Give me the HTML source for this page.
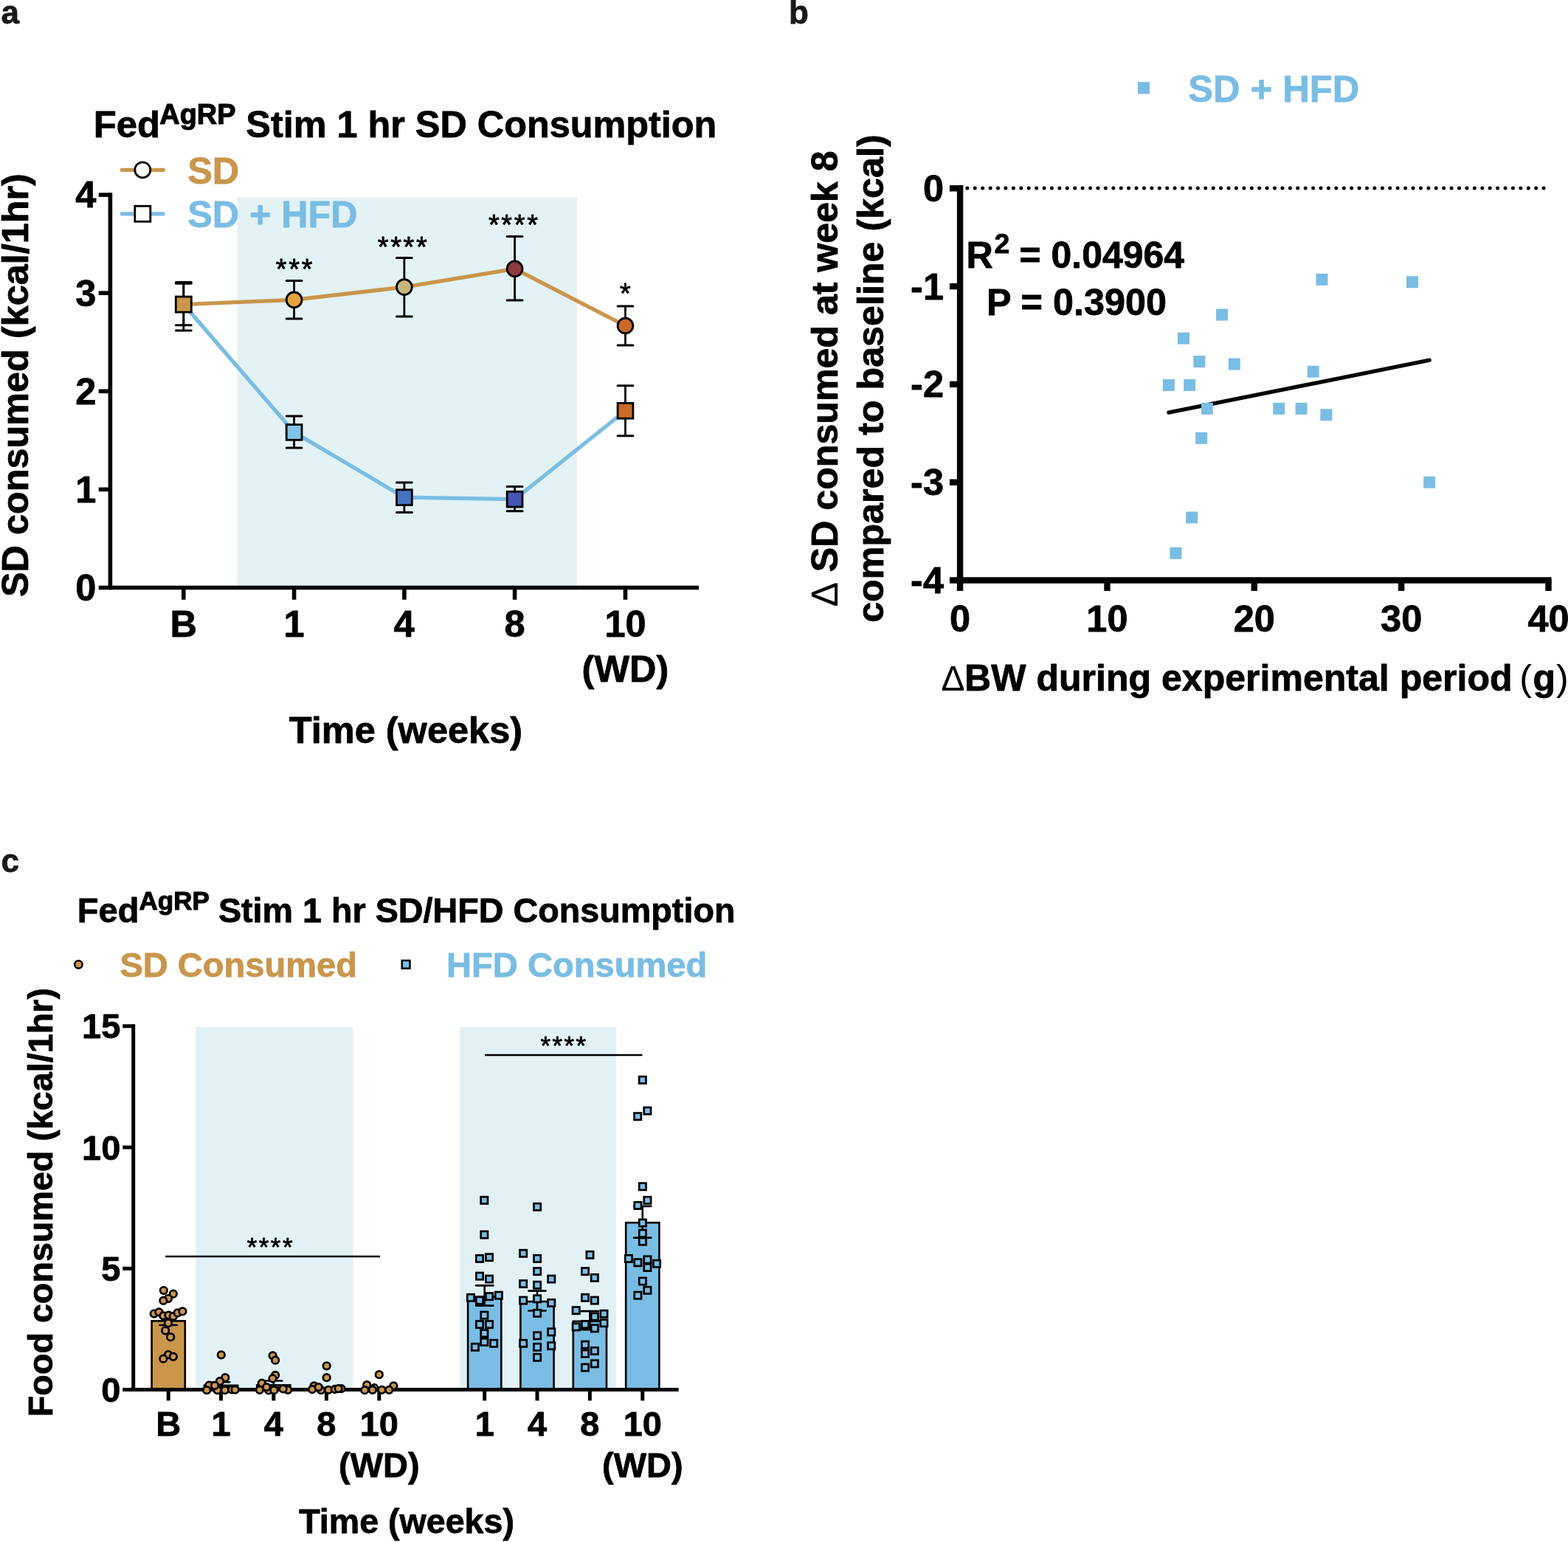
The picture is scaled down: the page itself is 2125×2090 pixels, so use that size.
<!DOCTYPE html>
<html lang="en"><head><meta charset="utf-8"><title>Figure</title>
<style>
html,body{margin:0;padding:0;background:#fff;}
body{width:2125px;height:2090px;overflow:hidden;}
svg{display:block;font-family:"Liberation Sans",sans-serif;font-weight:bold;}
text{stroke:#000;stroke-width:0.8px;stroke-linejoin:round;}
text.n,tspan.n{stroke-width:0.15px;font-weight:normal;}
text.s,tspan.s{stroke-width:1.1px;}
</style></head><body>
<svg width="2125" height="2090" viewBox="0 0 2125 2090">
<rect x="0" y="0" width="2125" height="2090" fill="#fff"/>
<text x="1.48" y="32.4" font-size="44" style="fill:#1a1a1a;stroke:#1a1a1a">a</text>
<text x="1069.04" y="32.3" font-size="44" style="fill:#1a1a1a;stroke:#1a1a1a">b</text>
<text x="1.44" y="1181.6" font-size="44" style="fill:#1a1a1a;stroke:#1a1a1a">c</text>
<rect x="321.5" y="267.8" width="460.5" height="528.7" fill="#e3f2f4"/>
<text y="186.1" font-size="50.8"><tspan x="126.77">Fed</tspan><tspan x="216.35" y="167.5" font-size="37.9" class="s">AgRP </tspan><tspan x="333.29" y="186.1" font-size="50.38">Stim 1 hr SD Consumption</tspan></text>
<line x1="165.2" y1="230.3" x2="221.2" y2="230.3" stroke="#c9964c" stroke-width="5.2" stroke-linecap="round"/>
<circle cx="193.3" cy="230.3" r="10.5" fill="#fff" stroke="#000" stroke-width="2.8"/>
<text x="254.19" y="249" font-size="50.5" style="fill:#c9964c;stroke:#c9964c">SD</text>
<line x1="165.2" y1="289.8" x2="221.2" y2="289.8" stroke="#7abde4" stroke-width="5.2" stroke-linecap="round"/>
<rect x="182.8" y="279.3" width="21" height="21" fill="#fff" stroke="#000" stroke-width="2.8"/>
<text x="254.19" y="308" font-size="50.24" style="fill:#7abde4;stroke:#7abde4">SD + HFD</text>
<polyline fill="none" stroke="#7abde4" stroke-width="5.3" stroke-linejoin="round" points="248.8,412.6 398.6,585.9 547.9,674.2 697.6,676.7 847.5,556.8"/>
<polyline fill="none" stroke="#c9964c" stroke-width="5.3" stroke-linejoin="round" points="248.8,412.6 398.6,406.4 547.9,389.1 697.6,364.3 847.5,441.5"/>
<line x1="248.8" y1="384.3" x2="248.8" y2="448" stroke="#000" stroke-width="2.8"/>
<line x1="238.4" y1="384.3" x2="259.2" y2="384.3" stroke="#000" stroke-width="3" stroke-linecap="round"/>
<line x1="238.4" y1="448" x2="259.2" y2="448" stroke="#000" stroke-width="3" stroke-linecap="round"/>
<line x1="248.8" y1="382.4" x2="248.8" y2="440.8" stroke="#000" stroke-width="2.8"/>
<line x1="238.4" y1="382.4" x2="259.2" y2="382.4" stroke="#000" stroke-width="3" stroke-linecap="round"/>
<line x1="238.4" y1="440.8" x2="259.2" y2="440.8" stroke="#000" stroke-width="3" stroke-linecap="round"/>
<line x1="398.6" y1="563.9" x2="398.6" y2="607" stroke="#000" stroke-width="2.8"/>
<line x1="388.2" y1="563.9" x2="409" y2="563.9" stroke="#000" stroke-width="3" stroke-linecap="round"/>
<line x1="388.2" y1="607" x2="409" y2="607" stroke="#000" stroke-width="3" stroke-linecap="round"/>
<line x1="398.6" y1="380.4" x2="398.6" y2="431.9" stroke="#000" stroke-width="2.8"/>
<line x1="388.2" y1="380.4" x2="409" y2="380.4" stroke="#000" stroke-width="3" stroke-linecap="round"/>
<line x1="388.2" y1="431.9" x2="409" y2="431.9" stroke="#000" stroke-width="3" stroke-linecap="round"/>
<line x1="547.9" y1="654.1" x2="547.9" y2="694.4" stroke="#000" stroke-width="2.8"/>
<line x1="537.5" y1="654.1" x2="558.3" y2="654.1" stroke="#000" stroke-width="3" stroke-linecap="round"/>
<line x1="537.5" y1="694.4" x2="558.3" y2="694.4" stroke="#000" stroke-width="3" stroke-linecap="round"/>
<line x1="547.9" y1="349.4" x2="547.9" y2="429.1" stroke="#000" stroke-width="2.8"/>
<line x1="537.5" y1="349.4" x2="558.3" y2="349.4" stroke="#000" stroke-width="3" stroke-linecap="round"/>
<line x1="537.5" y1="429.1" x2="558.3" y2="429.1" stroke="#000" stroke-width="3" stroke-linecap="round"/>
<line x1="697.6" y1="659.6" x2="697.6" y2="692.8" stroke="#000" stroke-width="2.8"/>
<line x1="687.2" y1="659.6" x2="708" y2="659.6" stroke="#000" stroke-width="3" stroke-linecap="round"/>
<line x1="687.2" y1="692.8" x2="708" y2="692.8" stroke="#000" stroke-width="3" stroke-linecap="round"/>
<line x1="697.6" y1="320.6" x2="697.6" y2="407.1" stroke="#000" stroke-width="2.8"/>
<line x1="687.2" y1="320.6" x2="708" y2="320.6" stroke="#000" stroke-width="3" stroke-linecap="round"/>
<line x1="687.2" y1="407.1" x2="708" y2="407.1" stroke="#000" stroke-width="3" stroke-linecap="round"/>
<line x1="847.5" y1="522.7" x2="847.5" y2="590.8" stroke="#000" stroke-width="2.8"/>
<line x1="837.1" y1="522.7" x2="857.9" y2="522.7" stroke="#000" stroke-width="3" stroke-linecap="round"/>
<line x1="837.1" y1="590.8" x2="857.9" y2="590.8" stroke="#000" stroke-width="3" stroke-linecap="round"/>
<line x1="847.5" y1="415.1" x2="847.5" y2="468.1" stroke="#000" stroke-width="2.8"/>
<line x1="837.1" y1="415.1" x2="857.9" y2="415.1" stroke="#000" stroke-width="3" stroke-linecap="round"/>
<line x1="837.1" y1="468.1" x2="857.9" y2="468.1" stroke="#000" stroke-width="3" stroke-linecap="round"/>
<rect x="388.2" y="575.5" width="20.8" height="20.8" fill="#80c4e8" stroke="#000" stroke-width="2.8"/>
<circle cx="398.6" cy="406.4" r="10.4" fill="#e4a23e" stroke="#000" stroke-width="2.8"/>
<rect x="537.5" y="663.8" width="20.8" height="20.8" fill="#4573c1" stroke="#000" stroke-width="2.8"/>
<circle cx="547.9" cy="389.1" r="10.4" fill="#cab67b" stroke="#000" stroke-width="2.8"/>
<rect x="687.2" y="666.3" width="20.8" height="20.8" fill="#4355b0" stroke="#000" stroke-width="2.8"/>
<circle cx="697.6" cy="364.3" r="10.4" fill="#8e3b40" stroke="#000" stroke-width="2.8"/>
<rect x="837.1" y="546.4" width="20.8" height="20.8" fill="#cb6a28" stroke="#000" stroke-width="2.8"/>
<circle cx="847.5" cy="441.5" r="10.4" fill="#cb6a28" stroke="#000" stroke-width="2.8"/>
<rect x="238.3" y="402.1" width="21" height="21" fill="#c9964c" stroke="#000" stroke-width="2.8"/>
<line x1="149.4" y1="261.3" x2="149.4" y2="799.3" stroke="#000" stroke-width="5.6"/>
<line x1="133.7" y1="796.5" x2="947" y2="796.5" stroke="#000" stroke-width="5.6"/>
<text x="130.3" y="813.8" font-size="50.5" text-anchor="end">0</text>
<line x1="133.7" y1="663.4" x2="149.4" y2="663.4" stroke="#000" stroke-width="5.6"/>
<text x="130.3" y="680.7" font-size="50.5" text-anchor="end">1</text>
<line x1="133.7" y1="530.3" x2="149.4" y2="530.3" stroke="#000" stroke-width="5.6"/>
<text x="130.3" y="547.6" font-size="50.5" text-anchor="end">2</text>
<line x1="133.7" y1="397.2" x2="149.4" y2="397.2" stroke="#000" stroke-width="5.6"/>
<text x="130.3" y="414.5" font-size="50.5" text-anchor="end">3</text>
<line x1="133.7" y1="264.1" x2="149.4" y2="264.1" stroke="#000" stroke-width="5.6"/>
<text x="130.3" y="281.4" font-size="50.5" text-anchor="end">4</text>
<line x1="248.8" y1="796.5" x2="248.8" y2="812.8" stroke="#000" stroke-width="5.6"/>
<text x="248.8" y="863.4" font-size="50.5" text-anchor="middle">B</text>
<line x1="398.6" y1="796.5" x2="398.6" y2="812.8" stroke="#000" stroke-width="5.6"/>
<text x="398.6" y="863.4" font-size="50.5" text-anchor="middle">1</text>
<line x1="547.9" y1="796.5" x2="547.9" y2="812.8" stroke="#000" stroke-width="5.6"/>
<text x="547.9" y="863.4" font-size="50.5" text-anchor="middle">4</text>
<line x1="697.6" y1="796.5" x2="697.6" y2="812.8" stroke="#000" stroke-width="5.6"/>
<text x="697.6" y="863.4" font-size="50.5" text-anchor="middle">8</text>
<line x1="847.5" y1="796.5" x2="847.5" y2="812.8" stroke="#000" stroke-width="5.6"/>
<text x="847.5" y="863.4" font-size="50.5" text-anchor="middle">10</text>
<text x="847.5" y="923.5" font-size="50.5" text-anchor="middle">(WD)</text>
<text x="391.8" y="1007.1" font-size="50.5">Time (weeks)</text>
<text transform="translate(38.4,809.01) rotate(-90)" font-size="50.39">SD consumed (kcal/1hr)</text>
<text x="373.85" y="377.6" font-size="38" font-weight="normal" letter-spacing="2.65">***</text>
<text x="511.73" y="348.2" font-size="38" font-weight="normal" letter-spacing="2.65">****</text>
<text x="661.93" y="317.8" font-size="38" font-weight="normal" letter-spacing="2.65">****</text>
<text x="839.89" y="410.8" font-size="38" font-weight="normal" letter-spacing="2.65">*</text>
<rect x="1541.9" y="111.1" width="16.2" height="16.2" fill="#7abde4"/>
<text x="1610.28" y="137.5" font-size="50.61" style="fill:#7abde4;stroke:#7abde4">SD + HFD</text>
<line x1="1310.9" y1="254.9" x2="2092.6" y2="254.9" stroke="#000" stroke-width="5" stroke-dasharray="0 10.416" stroke-linecap="round"/>
<line x1="1583.9" y1="559.2" x2="1937.2" y2="488.2" stroke="#000" stroke-width="5.3" stroke-linecap="round"/>
<rect x="1783.5" y="370.9" width="16" height="16" fill="#7abde4"/>
<rect x="1906" y="374.3" width="16" height="16" fill="#7abde4"/>
<rect x="1648.1" y="418.6" width="16" height="16" fill="#7abde4"/>
<rect x="1596" y="450.6" width="16" height="16" fill="#7abde4"/>
<rect x="1617.4" y="482.1" width="16" height="16" fill="#7abde4"/>
<rect x="1664.8" y="485.5" width="16" height="16" fill="#7abde4"/>
<rect x="1771.7" y="495.7" width="16" height="16" fill="#7abde4"/>
<rect x="1575.9" y="514" width="16" height="16" fill="#7abde4"/>
<rect x="1604.1" y="514" width="16" height="16" fill="#7abde4"/>
<rect x="1627.9" y="545.9" width="16" height="16" fill="#7abde4"/>
<rect x="1725.3" y="545.9" width="16" height="16" fill="#7abde4"/>
<rect x="1755.6" y="545.9" width="16" height="16" fill="#7abde4"/>
<rect x="1789.4" y="554.3" width="16" height="16" fill="#7abde4"/>
<rect x="1620.2" y="585.9" width="16" height="16" fill="#7abde4"/>
<rect x="1929.2" y="645.7" width="16" height="16" fill="#7abde4"/>
<rect x="1607.2" y="693.4" width="16" height="16" fill="#7abde4"/>
<rect x="1585.5" y="741.8" width="16" height="16" fill="#7abde4"/>
<line x1="1301.1" y1="251.1" x2="1301.1" y2="790.7" stroke="#000" stroke-width="8.4"/>
<line x1="1287" y1="786.5" x2="2102.6" y2="786.5" stroke="#000" stroke-width="8.4"/>
<line x1="1287" y1="255.3" x2="1301.1" y2="255.3" stroke="#000" stroke-width="8.4"/>
<text x="1279" y="272.8" font-size="50.5" text-anchor="end">0</text>
<line x1="1287" y1="388.1" x2="1301.1" y2="388.1" stroke="#000" stroke-width="8.4"/>
<text x="1279" y="405.6" font-size="50.5" text-anchor="end">-1</text>
<line x1="1287" y1="520.9" x2="1301.1" y2="520.9" stroke="#000" stroke-width="8.4"/>
<text x="1279" y="538.4" font-size="50.5" text-anchor="end">-2</text>
<line x1="1287" y1="653.7" x2="1301.1" y2="653.7" stroke="#000" stroke-width="8.4"/>
<text x="1279" y="671.2" font-size="50.5" text-anchor="end">-3</text>
<text x="1279" y="804" font-size="50.5" text-anchor="end">-4</text>
<line x1="1301.1" y1="786.5" x2="1301.1" y2="800.9" stroke="#000" stroke-width="8.4"/>
<text x="1301.1" y="856.3" font-size="50.5" text-anchor="middle">0</text>
<line x1="1500.45" y1="786.5" x2="1500.45" y2="800.9" stroke="#000" stroke-width="8.4"/>
<text x="1500.45" y="856.3" font-size="50.5" text-anchor="middle">10</text>
<line x1="1699.8" y1="786.5" x2="1699.8" y2="800.9" stroke="#000" stroke-width="8.4"/>
<text x="1699.8" y="856.3" font-size="50.5" text-anchor="middle">20</text>
<line x1="1899.15" y1="786.5" x2="1899.15" y2="800.9" stroke="#000" stroke-width="8.4"/>
<text x="1899.15" y="856.3" font-size="50.5" text-anchor="middle">30</text>
<line x1="2098.5" y1="786.5" x2="2098.5" y2="800.9" stroke="#000" stroke-width="8.4"/>
<text x="2098.5" y="856.3" font-size="50.5" text-anchor="middle">40</text>
<text y="935.5" font-size="50.05"><tspan x="1275.56" font-size="47.9" class="n">Δ</tspan><tspan x="1307.12">BW during experimental period </tspan><tspan x="2059.17" class="n">(</tspan><tspan x="2077.4">g</tspan><tspan x="2108.99" class="n">)</tspan></text>
<text transform="translate(1134.5,822.6) rotate(-90)" font-size="50.12"><tspan x="0" class="n">Δ </tspan><tspan x="47.44">SD consumed at week 8</tspan></text>
<text transform="translate(1197.1,843.81) rotate(-90)" font-size="50.22">compared to baseline (kcal)</text>
<text y="363.1" font-size="50.3"><tspan x="1309.6">R</tspan><tspan x="1347.39" y="343.4" font-size="37.5">2 </tspan><tspan x="1381.58" y="363.1" font-size="49.92">= 0.04964</tspan></text>
<text x="1336.9" y="426.6" font-size="50.39">P = 0.3900</text>
<rect x="265.3" y="1392" width="213.2" height="491.6" fill="#e2f1f6"/>
<rect x="623.2" y="1392" width="212.1" height="491.6" fill="#e2f1f6"/>
<text y="1249.6" font-size="47"><tspan x="104.83">Fed</tspan><tspan x="188.52" y="1232.7" font-size="35" class="s">AgRP </tspan><tspan x="295.9" y="1249.6" font-size="46.71">Stim 1 hr SD/HFD Consumption</tspan></text>
<circle cx="106.4" cy="1307.2" r="5.2" fill="#c9964c" stroke="#000" stroke-width="2.5"/>
<text x="162.39" y="1324" font-size="47.05" style="fill:#c9964c;stroke:#c9964c">SD Consumed</text>
<rect x="544.75" y="1301.85" width="10.7" height="10.7" fill="#7abde4" stroke="#000" stroke-width="2.5"/>
<text x="605.02" y="1324" font-size="47.11" style="fill:#7abde4;stroke:#7abde4">HFD Consumed</text>
<text transform="translate(70.9,1920.15) rotate(-90)" font-size="46.69">Food consumed (kcal/1hr)</text>
<text x="405.23" y="2078" font-size="46.58">Time (weeks)</text>
<text x="228.2" y="1945.5" font-size="47" text-anchor="middle">B</text>
<text x="299.5" y="1945.5" font-size="47" text-anchor="middle">1</text>
<text x="370.8" y="1945.5" font-size="47" text-anchor="middle">4</text>
<text x="442.4" y="1945.5" font-size="47" text-anchor="middle">8</text>
<text x="513.8" y="1945.5" font-size="47" text-anchor="middle">10</text>
<text x="656.7" y="1945.5" font-size="47" text-anchor="middle">1</text>
<text x="728" y="1945.5" font-size="47" text-anchor="middle">4</text>
<text x="799.4" y="1945.5" font-size="47" text-anchor="middle">8</text>
<text x="870.8" y="1945.5" font-size="47" text-anchor="middle">10</text>
<text x="513.8" y="2001.8" font-size="47" text-anchor="middle">(WD)</text>
<text x="870.8" y="2001.8" font-size="47" text-anchor="middle">(WD)</text>
<text x="163.4" y="1900.1" font-size="47" text-anchor="end">0</text>
<text x="163.4" y="1735.83" font-size="47" text-anchor="end">5</text>
<text x="163.4" y="1571.57" font-size="47" text-anchor="end">10</text>
<text x="163.4" y="1407.3" font-size="47" text-anchor="end">15</text>
<rect x="205.6" y="1790.4" width="45.2" height="93.2" fill="#c9964c" stroke="#000" stroke-width="2.6"/>
<rect x="276.9" y="1877.82" width="45.2" height="5.78" fill="#c9964c" stroke="#000" stroke-width="2.6"/>
<rect x="348.2" y="1877.38" width="45.2" height="6.22" fill="#c9964c" stroke="#000" stroke-width="2.6"/>
<rect x="419.8" y="1881.5" width="45.2" height="2.1" fill="#c9964c" stroke="#000" stroke-width="2.6"/>
<rect x="491.2" y="1882" width="45.2" height="1.6" fill="#c9964c" stroke="#000" stroke-width="2.6"/>
<rect x="634.1" y="1757.58" width="45.2" height="126.02" fill="#7abde4" stroke="#000" stroke-width="2.6"/>
<rect x="705.4" y="1764.08" width="45.2" height="119.52" fill="#7abde4" stroke="#000" stroke-width="2.6"/>
<rect x="776.8" y="1790.86" width="45.2" height="92.74" fill="#7abde4" stroke="#000" stroke-width="2.6"/>
<rect x="848.2" y="1657.17" width="45.2" height="226.43" fill="#7abde4" stroke="#000" stroke-width="2.6"/>
<line x1="228.2" y1="1784.17" x2="228.2" y2="1795.99" stroke="#000" stroke-width="2.6"/>
<line x1="216.6" y1="1784.17" x2="239.8" y2="1784.17" stroke="#000" stroke-width="2.6" stroke-linecap="round"/>
<line x1="216.6" y1="1795.99" x2="239.8" y2="1795.99" stroke="#000" stroke-width="2.6" stroke-linecap="round"/>
<line x1="299.5" y1="1873.29" x2="299.5" y2="1879.8" stroke="#000" stroke-width="2.6"/>
<line x1="287.9" y1="1873.29" x2="311.1" y2="1873.29" stroke="#000" stroke-width="2.6" stroke-linecap="round"/>
<line x1="287.9" y1="1879.8" x2="311.1" y2="1879.8" stroke="#000" stroke-width="2.6" stroke-linecap="round"/>
<line x1="370.8" y1="1871.55" x2="370.8" y2="1880.52" stroke="#000" stroke-width="2.6"/>
<line x1="359.2" y1="1871.55" x2="382.4" y2="1871.55" stroke="#000" stroke-width="2.6" stroke-linecap="round"/>
<line x1="359.2" y1="1880.52" x2="382.4" y2="1880.52" stroke="#000" stroke-width="2.6" stroke-linecap="round"/>
<line x1="656.7" y1="1742.33" x2="656.7" y2="1769.66" stroke="#000" stroke-width="2.6"/>
<line x1="645.1" y1="1742.33" x2="668.3" y2="1742.33" stroke="#000" stroke-width="2.6" stroke-linecap="round"/>
<line x1="645.1" y1="1769.66" x2="668.3" y2="1769.66" stroke="#000" stroke-width="2.6" stroke-linecap="round"/>
<line x1="728" y1="1749.58" x2="728" y2="1776.54" stroke="#000" stroke-width="2.6"/>
<line x1="716.4" y1="1749.58" x2="739.6" y2="1749.58" stroke="#000" stroke-width="2.6" stroke-linecap="round"/>
<line x1="716.4" y1="1776.54" x2="739.6" y2="1776.54" stroke="#000" stroke-width="2.6" stroke-linecap="round"/>
<line x1="799.4" y1="1777.1" x2="799.4" y2="1802.2" stroke="#000" stroke-width="2.6"/>
<line x1="787.8" y1="1777.1" x2="811" y2="1777.1" stroke="#000" stroke-width="2.6" stroke-linecap="round"/>
<line x1="787.8" y1="1802.2" x2="811" y2="1802.2" stroke="#000" stroke-width="2.6" stroke-linecap="round"/>
<line x1="870.8" y1="1634.85" x2="870.8" y2="1677.62" stroke="#000" stroke-width="2.6"/>
<line x1="859.2" y1="1634.85" x2="882.4" y2="1634.85" stroke="#000" stroke-width="2.6" stroke-linecap="round"/>
<line x1="859.2" y1="1677.62" x2="882.4" y2="1677.62" stroke="#000" stroke-width="2.6" stroke-linecap="round"/>
<line x1="180.7" y1="1388.3" x2="180.7" y2="1886.1" stroke="#000" stroke-width="5"/>
<line x1="166.2" y1="1883.6" x2="919.6" y2="1883.6" stroke="#000" stroke-width="5"/>
<line x1="166.2" y1="1719.33" x2="180.7" y2="1719.33" stroke="#000" stroke-width="5"/>
<line x1="166.2" y1="1555.07" x2="180.7" y2="1555.07" stroke="#000" stroke-width="5"/>
<line x1="166.2" y1="1390.8" x2="180.7" y2="1390.8" stroke="#000" stroke-width="5"/>
<line x1="228.2" y1="1883.6" x2="228.2" y2="1898.4" stroke="#000" stroke-width="5"/>
<line x1="299.5" y1="1883.6" x2="299.5" y2="1898.4" stroke="#000" stroke-width="5"/>
<line x1="370.8" y1="1883.6" x2="370.8" y2="1898.4" stroke="#000" stroke-width="5"/>
<line x1="442.4" y1="1883.6" x2="442.4" y2="1898.4" stroke="#000" stroke-width="5"/>
<line x1="513.8" y1="1883.6" x2="513.8" y2="1898.4" stroke="#000" stroke-width="5"/>
<line x1="656.7" y1="1883.6" x2="656.7" y2="1898.4" stroke="#000" stroke-width="5"/>
<line x1="728" y1="1883.6" x2="728" y2="1898.4" stroke="#000" stroke-width="5"/>
<line x1="799.4" y1="1883.6" x2="799.4" y2="1898.4" stroke="#000" stroke-width="5"/>
<line x1="870.8" y1="1883.6" x2="870.8" y2="1898.4" stroke="#000" stroke-width="5"/>
<circle cx="221.85" cy="1749.03" r="4.8" fill="#c9964c" stroke="#000" stroke-width="2.7"/>
<circle cx="234.77" cy="1753.76" r="4.8" fill="#c9964c" stroke="#000" stroke-width="2.7"/>
<circle cx="227.99" cy="1760.06" r="4.8" fill="#c9964c" stroke="#000" stroke-width="2.7"/>
<circle cx="221.37" cy="1762.9" r="4.8" fill="#c9964c" stroke="#000" stroke-width="2.7"/>
<circle cx="208.77" cy="1780.55" r="4.8" fill="#c9964c" stroke="#000" stroke-width="2.7"/>
<circle cx="215.39" cy="1778.34" r="4.8" fill="#c9964c" stroke="#000" stroke-width="2.7"/>
<circle cx="221.37" cy="1783.38" r="4.8" fill="#c9964c" stroke="#000" stroke-width="2.7"/>
<circle cx="228.47" cy="1782.59" r="4.8" fill="#c9964c" stroke="#000" stroke-width="2.7"/>
<circle cx="234.77" cy="1784.17" r="4.8" fill="#c9964c" stroke="#000" stroke-width="2.7"/>
<circle cx="240.76" cy="1779.44" r="4.8" fill="#c9964c" stroke="#000" stroke-width="2.7"/>
<circle cx="247.37" cy="1777.39" r="4.8" fill="#c9964c" stroke="#000" stroke-width="2.7"/>
<circle cx="227.99" cy="1793.31" r="4.8" fill="#c9964c" stroke="#000" stroke-width="2.7"/>
<circle cx="224.21" cy="1803.39" r="4.8" fill="#c9964c" stroke="#000" stroke-width="2.7"/>
<circle cx="231.14" cy="1812.22" r="4.8" fill="#c9964c" stroke="#000" stroke-width="2.7"/>
<circle cx="227.99" cy="1836.16" r="4.8" fill="#c9964c" stroke="#000" stroke-width="2.7"/>
<circle cx="221.37" cy="1841.68" r="4.8" fill="#c9964c" stroke="#000" stroke-width="2.7"/>
<circle cx="234.77" cy="1838.84" r="4.8" fill="#c9964c" stroke="#000" stroke-width="2.7"/>
<circle cx="299.77" cy="1836.41" r="4.8" fill="#c9964c" stroke="#000" stroke-width="2.7"/>
<circle cx="305.27" cy="1867.21" r="4.8" fill="#c9964c" stroke="#000" stroke-width="2.7"/>
<circle cx="297.89" cy="1872.13" r="4.8" fill="#c9964c" stroke="#000" stroke-width="2.7"/>
<circle cx="283.43" cy="1877.63" r="4.8" fill="#c9964c" stroke="#000" stroke-width="2.7"/>
<circle cx="280.25" cy="1884.14" r="4.8" fill="#c9964c" stroke="#000" stroke-width="2.7"/>
<circle cx="294.71" cy="1884.14" r="4.8" fill="#c9964c" stroke="#000" stroke-width="2.7"/>
<circle cx="291.1" cy="1877.92" r="4.8" fill="#c9964c" stroke="#000" stroke-width="2.7"/>
<circle cx="304.84" cy="1884.14" r="4.8" fill="#c9964c" stroke="#000" stroke-width="2.7"/>
<circle cx="314.24" cy="1883.41" r="4.8" fill="#c9964c" stroke="#000" stroke-width="2.7"/>
<circle cx="318.58" cy="1883.7" r="4.8" fill="#c9964c" stroke="#000" stroke-width="2.7"/>
<circle cx="369.63" cy="1837.42" r="4.8" fill="#c9964c" stroke="#000" stroke-width="2.7"/>
<circle cx="373.1" cy="1843.64" r="4.8" fill="#c9964c" stroke="#000" stroke-width="2.7"/>
<circle cx="373.1" cy="1863.89" r="4.8" fill="#c9964c" stroke="#000" stroke-width="2.7"/>
<circle cx="369.49" cy="1868.52" r="4.8" fill="#c9964c" stroke="#000" stroke-width="2.7"/>
<circle cx="354.74" cy="1874.74" r="4.8" fill="#c9964c" stroke="#000" stroke-width="2.7"/>
<circle cx="351.84" cy="1883.85" r="4.8" fill="#c9964c" stroke="#000" stroke-width="2.7"/>
<circle cx="364.14" cy="1884.43" r="4.8" fill="#c9964c" stroke="#000" stroke-width="2.7"/>
<circle cx="361.24" cy="1880.09" r="4.8" fill="#c9964c" stroke="#000" stroke-width="2.7"/>
<circle cx="371.37" cy="1884.14" r="4.8" fill="#c9964c" stroke="#000" stroke-width="2.7"/>
<circle cx="390.17" cy="1883.85" r="4.8" fill="#c9964c" stroke="#000" stroke-width="2.7"/>
<circle cx="383.66" cy="1882.4" r="4.8" fill="#c9964c" stroke="#000" stroke-width="2.7"/>
<circle cx="442.67" cy="1851.3" r="4.8" fill="#c9964c" stroke="#000" stroke-width="2.7"/>
<circle cx="442.67" cy="1867.21" r="4.8" fill="#c9964c" stroke="#000" stroke-width="2.7"/>
<circle cx="425.61" cy="1878.35" r="4.8" fill="#c9964c" stroke="#000" stroke-width="2.7"/>
<circle cx="423.15" cy="1883.12" r="4.8" fill="#c9964c" stroke="#000" stroke-width="2.7"/>
<circle cx="435.01" cy="1884.14" r="4.8" fill="#c9964c" stroke="#000" stroke-width="2.7"/>
<circle cx="431.68" cy="1880.09" r="4.8" fill="#c9964c" stroke="#000" stroke-width="2.7"/>
<circle cx="445.13" cy="1883.85" r="4.8" fill="#c9964c" stroke="#000" stroke-width="2.7"/>
<circle cx="453.81" cy="1882.98" r="4.8" fill="#c9964c" stroke="#000" stroke-width="2.7"/>
<circle cx="462.49" cy="1882.11" r="4.8" fill="#c9964c" stroke="#000" stroke-width="2.7"/>
<circle cx="458.58" cy="1882.11" r="4.8" fill="#c9964c" stroke="#000" stroke-width="2.7"/>
<circle cx="513.83" cy="1863.16" r="4.8" fill="#c9964c" stroke="#000" stroke-width="2.7"/>
<circle cx="497.2" cy="1877.19" r="4.8" fill="#c9964c" stroke="#000" stroke-width="2.7"/>
<circle cx="533.36" cy="1878.35" r="4.8" fill="#c9964c" stroke="#000" stroke-width="2.7"/>
<circle cx="507.32" cy="1881.24" r="4.8" fill="#c9964c" stroke="#000" stroke-width="2.7"/>
<circle cx="494.31" cy="1884.14" r="4.8" fill="#c9964c" stroke="#000" stroke-width="2.7"/>
<circle cx="504.87" cy="1883.85" r="4.8" fill="#c9964c" stroke="#000" stroke-width="2.7"/>
<circle cx="517.45" cy="1883.85" r="4.8" fill="#c9964c" stroke="#000" stroke-width="2.7"/>
<circle cx="527.28" cy="1883.85" r="4.8" fill="#c9964c" stroke="#000" stroke-width="2.7"/>
<rect x="866.15" y="1459.15" width="9.3" height="9.3" fill="#7abde4" stroke="#000" stroke-width="2.7"/>
<rect x="872.75" y="1500.95" width="9.3" height="9.3" fill="#7abde4" stroke="#000" stroke-width="2.7"/>
<rect x="859.55" y="1508.55" width="9.3" height="9.3" fill="#7abde4" stroke="#000" stroke-width="2.7"/>
<rect x="651.69" y="1622.21" width="9.3" height="9.3" fill="#7abde4" stroke="#000" stroke-width="2.7"/>
<rect x="651.69" y="1668.88" width="9.3" height="9.3" fill="#7abde4" stroke="#000" stroke-width="2.7"/>
<rect x="645.37" y="1701.23" width="9.3" height="9.3" fill="#7abde4" stroke="#000" stroke-width="2.7"/>
<rect x="658.38" y="1699.56" width="9.3" height="9.3" fill="#7abde4" stroke="#000" stroke-width="2.7"/>
<rect x="645.37" y="1725.03" width="9.3" height="9.3" fill="#7abde4" stroke="#000" stroke-width="2.7"/>
<rect x="658.38" y="1728.94" width="9.3" height="9.3" fill="#7abde4" stroke="#000" stroke-width="2.7"/>
<rect x="633.28" y="1754.23" width="9.3" height="9.3" fill="#7abde4" stroke="#000" stroke-width="2.7"/>
<rect x="645.37" y="1757.95" width="9.3" height="9.3" fill="#7abde4" stroke="#000" stroke-width="2.7"/>
<rect x="658.38" y="1752.55" width="9.3" height="9.3" fill="#7abde4" stroke="#000" stroke-width="2.7"/>
<rect x="671.21" y="1751.07" width="9.3" height="9.3" fill="#7abde4" stroke="#000" stroke-width="2.7"/>
<rect x="651.69" y="1778.03" width="9.3" height="9.3" fill="#7abde4" stroke="#000" stroke-width="2.7"/>
<rect x="645.37" y="1790.49" width="9.3" height="9.3" fill="#7abde4" stroke="#000" stroke-width="2.7"/>
<rect x="658.38" y="1790.49" width="9.3" height="9.3" fill="#7abde4" stroke="#000" stroke-width="2.7"/>
<rect x="651.69" y="1802.57" width="9.3" height="9.3" fill="#7abde4" stroke="#000" stroke-width="2.7"/>
<rect x="651.69" y="1814.29" width="9.3" height="9.3" fill="#7abde4" stroke="#000" stroke-width="2.7"/>
<rect x="664.52" y="1816.15" width="9.3" height="9.3" fill="#7abde4" stroke="#000" stroke-width="2.7"/>
<rect x="639.23" y="1821.17" width="9.3" height="9.3" fill="#7abde4" stroke="#000" stroke-width="2.7"/>
<rect x="723.46" y="1631.13" width="9.3" height="9.3" fill="#7abde4" stroke="#000" stroke-width="2.7"/>
<rect x="704.5" y="1694.17" width="9.3" height="9.3" fill="#7abde4" stroke="#000" stroke-width="2.7"/>
<rect x="723.46" y="1701.23" width="9.3" height="9.3" fill="#7abde4" stroke="#000" stroke-width="2.7"/>
<rect x="723.46" y="1718.53" width="9.3" height="9.3" fill="#7abde4" stroke="#000" stroke-width="2.7"/>
<rect x="742.62" y="1728.94" width="9.3" height="9.3" fill="#7abde4" stroke="#000" stroke-width="2.7"/>
<rect x="704.5" y="1735.45" width="9.3" height="9.3" fill="#7abde4" stroke="#000" stroke-width="2.7"/>
<rect x="723.46" y="1737.12" width="9.3" height="9.3" fill="#7abde4" stroke="#000" stroke-width="2.7"/>
<rect x="704.5" y="1757.95" width="9.3" height="9.3" fill="#7abde4" stroke="#000" stroke-width="2.7"/>
<rect x="723.46" y="1755.71" width="9.3" height="9.3" fill="#7abde4" stroke="#000" stroke-width="2.7"/>
<rect x="742.62" y="1761.29" width="9.3" height="9.3" fill="#7abde4" stroke="#000" stroke-width="2.7"/>
<rect x="723.46" y="1775.24" width="9.3" height="9.3" fill="#7abde4" stroke="#000" stroke-width="2.7"/>
<rect x="742.62" y="1800.71" width="9.3" height="9.3" fill="#7abde4" stroke="#000" stroke-width="2.7"/>
<rect x="723.46" y="1805.73" width="9.3" height="9.3" fill="#7abde4" stroke="#000" stroke-width="2.7"/>
<rect x="704.5" y="1816.15" width="9.3" height="9.3" fill="#7abde4" stroke="#000" stroke-width="2.7"/>
<rect x="723.46" y="1821.17" width="9.3" height="9.3" fill="#7abde4" stroke="#000" stroke-width="2.7"/>
<rect x="742.62" y="1819.49" width="9.3" height="9.3" fill="#7abde4" stroke="#000" stroke-width="2.7"/>
<rect x="723.46" y="1835.11" width="9.3" height="9.3" fill="#7abde4" stroke="#000" stroke-width="2.7"/>
<rect x="794.87" y="1696.21" width="9.3" height="9.3" fill="#7abde4" stroke="#000" stroke-width="2.7"/>
<rect x="788.36" y="1718.53" width="9.3" height="9.3" fill="#7abde4" stroke="#000" stroke-width="2.7"/>
<rect x="801.19" y="1727.27" width="9.3" height="9.3" fill="#7abde4" stroke="#000" stroke-width="2.7"/>
<rect x="788.36" y="1754.23" width="9.3" height="9.3" fill="#7abde4" stroke="#000" stroke-width="2.7"/>
<rect x="801.19" y="1757.95" width="9.3" height="9.3" fill="#7abde4" stroke="#000" stroke-width="2.7"/>
<rect x="776.09" y="1771.52" width="9.3" height="9.3" fill="#7abde4" stroke="#000" stroke-width="2.7"/>
<rect x="813.83" y="1776.17" width="9.3" height="9.3" fill="#7abde4" stroke="#000" stroke-width="2.7"/>
<rect x="801.19" y="1779.89" width="9.3" height="9.3" fill="#7abde4" stroke="#000" stroke-width="2.7"/>
<rect x="813.83" y="1788.63" width="9.3" height="9.3" fill="#7abde4" stroke="#000" stroke-width="2.7"/>
<rect x="788.36" y="1790.49" width="9.3" height="9.3" fill="#7abde4" stroke="#000" stroke-width="2.7"/>
<rect x="776.09" y="1793.83" width="9.3" height="9.3" fill="#7abde4" stroke="#000" stroke-width="2.7"/>
<rect x="801.19" y="1795.69" width="9.3" height="9.3" fill="#7abde4" stroke="#000" stroke-width="2.7"/>
<rect x="788.36" y="1818.01" width="9.3" height="9.3" fill="#7abde4" stroke="#000" stroke-width="2.7"/>
<rect x="801.19" y="1826.37" width="9.3" height="9.3" fill="#7abde4" stroke="#000" stroke-width="2.7"/>
<rect x="788.36" y="1830.09" width="9.3" height="9.3" fill="#7abde4" stroke="#000" stroke-width="2.7"/>
<rect x="801.19" y="1843.67" width="9.3" height="9.3" fill="#7abde4" stroke="#000" stroke-width="2.7"/>
<rect x="788.36" y="1848.87" width="9.3" height="9.3" fill="#7abde4" stroke="#000" stroke-width="2.7"/>
<rect x="866.27" y="1603.61" width="9.3" height="9.3" fill="#7abde4" stroke="#000" stroke-width="2.7"/>
<rect x="872.78" y="1622.21" width="9.3" height="9.3" fill="#7abde4" stroke="#000" stroke-width="2.7"/>
<rect x="859.76" y="1629.27" width="9.3" height="9.3" fill="#7abde4" stroke="#000" stroke-width="2.7"/>
<rect x="866.27" y="1652.89" width="9.3" height="9.3" fill="#7abde4" stroke="#000" stroke-width="2.7"/>
<rect x="866.27" y="1667.02" width="9.3" height="9.3" fill="#7abde4" stroke="#000" stroke-width="2.7"/>
<rect x="866.27" y="1677.99" width="9.3" height="9.3" fill="#7abde4" stroke="#000" stroke-width="2.7"/>
<rect x="847.3" y="1701.23" width="9.3" height="9.3" fill="#7abde4" stroke="#000" stroke-width="2.7"/>
<rect x="872.78" y="1702.72" width="9.3" height="9.3" fill="#7abde4" stroke="#000" stroke-width="2.7"/>
<rect x="859.76" y="1706.63" width="9.3" height="9.3" fill="#7abde4" stroke="#000" stroke-width="2.7"/>
<rect x="885.42" y="1708.11" width="9.3" height="9.3" fill="#7abde4" stroke="#000" stroke-width="2.7"/>
<rect x="872.78" y="1713.32" width="9.3" height="9.3" fill="#7abde4" stroke="#000" stroke-width="2.7"/>
<rect x="866.27" y="1731.91" width="9.3" height="9.3" fill="#7abde4" stroke="#000" stroke-width="2.7"/>
<rect x="872.78" y="1744.19" width="9.3" height="9.3" fill="#7abde4" stroke="#000" stroke-width="2.7"/>
<rect x="859.76" y="1751.07" width="9.3" height="9.3" fill="#7abde4" stroke="#000" stroke-width="2.7"/>
<line x1="224.1" y1="1703" x2="515" y2="1703" stroke="#000" stroke-width="2.3"/>
<text x="334.84" y="1702.2" font-size="35" font-weight="normal" letter-spacing="2.4">****</text>
<line x1="657" y1="1430" x2="870.5" y2="1430" stroke="#000" stroke-width="2.3"/>
<text x="732.44" y="1429.2" font-size="35" font-weight="normal" letter-spacing="2.4">****</text>
</svg>
</body></html>
